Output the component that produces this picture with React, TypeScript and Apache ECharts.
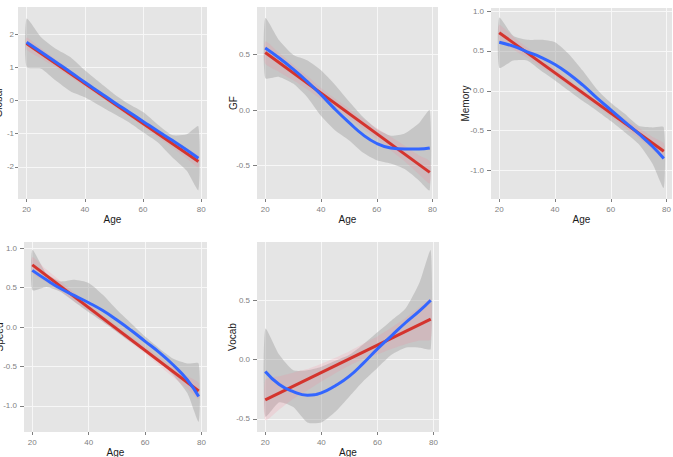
import React, { useEffect, useRef } from "react";
import * as echarts from "echarts";

// ---- data ----
const AGES = [20, 25, 30, 35, 40, 45, 50, 55, 60, 65, 70, 75, 79];
const LM_AGES = [20, 79];
const X_TICKS = [20, 40, 60, 80];

const globalLoess = [1.76, 1.46, 1.16, 0.86, 0.55, 0.25, -0.05, -0.34, -0.63, -0.92, -1.2, -1.49, -1.74];
const globalLoessLo = [1.01, 0.96, 0.6, 0.28, 0.1, -0.15, -0.4, -0.65, -0.96, -1.26, -1.71, -2.12, -2.7];
const globalLoessHi = [2.47, 1.91, 1.56, 1.31, 0.91, 0.55, 0.2, -0.1, -0.35, -0.72, -1.04, -1.02, -0.78];
const globalLm = [1.72, -1.84];
const globalLmLo = [1.54, 1.27, 1.0, 0.71, 0.42, 0.13, -0.17, -0.47, -0.78, -1.1, -1.42, -1.75, -2.02];
const globalLmHi = [1.9, 1.57, 1.24, 0.91, 0.6, 0.29, -0.01, -0.31, -0.6, -0.9, -1.18, -1.45, -1.66];
const globalTicks = [-2, -1, 0, 1, 2];

const gfLoess = [0.56, 0.47, 0.37, 0.26, 0.14, 0.01, -0.11, -0.22, -0.3, -0.34, -0.35, -0.35, -0.34];
const gfLoessLo = [0.29, 0.3, 0.24, 0.12, -0.05, -0.18, -0.27, -0.38, -0.45, -0.48, -0.53, -0.63, -0.72];
const gfLoessHi = [0.83, 0.63, 0.5, 0.45, 0.36, 0.23, 0.08, -0.06, -0.17, -0.23, -0.21, -0.12, 0.0];
const gfLm = [0.52, -0.56];
const gfLmLo = [0.42, 0.345, 0.27, 0.19, 0.1, 0.015, -0.075, -0.165, -0.26, -0.36, -0.46, -0.575, -0.66];
const gfLmHi = [0.62, 0.515, 0.41, 0.31, 0.2, 0.105, 0.015, -0.075, -0.16, -0.24, -0.32, -0.405, -0.46];
const gfTicks = [-0.5, 0, 0.5];

const memoryLoess = [0.61, 0.56, 0.49, 0.42, 0.33, 0.21, 0.07, -0.09, -0.24, -0.39, -0.54, -0.7, -0.85];
const memoryLoessLo = [0.29, 0.38, 0.38, 0.25, 0.13, 0.0, -0.13, -0.25, -0.38, -0.52, -0.67, -0.92, -1.22];
const memoryLoessHi = [0.92, 0.69, 0.64, 0.64, 0.61, 0.46, 0.25, 0.02, -0.15, -0.29, -0.44, -0.46, -0.46];
const memoryLm = [0.73, -0.76];
const memoryLmLo = [0.63, 0.52, 0.415, 0.295, 0.185, 0.06, -0.07, -0.2, -0.325, -0.465, -0.595, -0.74, -0.86];
const memoryLmHi = [0.83, 0.68, 0.545, 0.405, 0.275, 0.14, 0.01, -0.12, -0.235, -0.355, -0.465, -0.58, -0.66];
const memoryTicks = [-1, -0.5, 0, 0.5, 1];

const speedLoess = [0.72, 0.6, 0.49, 0.4, 0.31, 0.21, 0.09, -0.04, -0.18, -0.32, -0.48, -0.67, -0.88];
const speedLoessLo = [0.47, 0.51, 0.45, 0.32, 0.19, 0.07, -0.06, -0.19, -0.31, -0.44, -0.61, -0.84, -1.2];
const speedLoessHi = [0.98, 0.68, 0.58, 0.6, 0.56, 0.41, 0.22, 0.05, -0.12, -0.27, -0.4, -0.46, -0.46];
const speedLm = [0.79, -0.81];
const speedLmLo = [0.69, 0.57, 0.455, 0.325, 0.205, 0.07, -0.06, -0.2, -0.335, -0.485, -0.635, -0.78, -0.91];
const speedLmHi = [0.89, 0.73, 0.585, 0.435, 0.295, 0.15, 0.02, -0.12, -0.245, -0.375, -0.505, -0.62, -0.71];
const speedTicks = [-1, -0.5, 0, 0.5, 1];

const vocabLoess = [-0.1, -0.21, -0.27, -0.3, -0.28, -0.22, -0.14, -0.03, 0.09, 0.2, 0.31, 0.41, 0.5];
const vocabLoessLo = [-0.48, -0.36, -0.4, -0.53, -0.53, -0.44, -0.31, -0.18, -0.07, 0.04, 0.1, 0.1, 0.09];
const vocabLoessHi = [0.26, 0.04, -0.09, -0.09, -0.06, -0.01, 0.04, 0.13, 0.23, 0.33, 0.43, 0.65, 0.92];
const vocabLm = [-0.34, 0.34];
const vocabLmLo = [-0.51, -0.42, -0.33, -0.26, -0.185, -0.115, -0.05, 0.005, 0.045, 0.09, 0.13, 0.16, 0.17];
const vocabLmHi = [-0.17, -0.14, -0.11, -0.08, -0.035, 0.015, 0.07, 0.135, 0.195, 0.27, 0.35, 0.44, 0.51];
const vocabTicks = [-0.5, 0, 0.5, 1];

const PANELS = [
  { name: "Global", loess: globalLoess, lo: globalLoessLo, hi: globalLoessHi, lm: globalLm, lmLo: globalLmLo, lmHi: globalLmHi, ticks: globalTicks, yMin: -2.97, yMax: 2.82, dec: 0 },
  { name: "GF", loess: gfLoess, lo: gfLoessLo, hi: gfLoessHi, lm: gfLm, lmLo: gfLmLo, lmHi: gfLmHi, ticks: gfTicks, yMin: -0.8, yMax: 0.93, dec: 1 },
  { name: "Memory", loess: memoryLoess, lo: memoryLoessLo, hi: memoryLoessHi, lm: memoryLm, lmLo: memoryLmLo, lmHi: memoryLmHi, ticks: memoryTicks, yMin: -1.36, yMax: 1.04, dec: 1 },
  { name: "Speed", loess: speedLoess, lo: speedLoessLo, hi: speedLoessHi, lm: speedLm, lmLo: speedLmLo, lmHi: speedLmHi, ticks: speedTicks, yMin: -1.33, yMax: 1.08, dec: 1 },
  { name: "Vocab", loess: vocabLoess, lo: vocabLoessLo, hi: vocabLoessHi, lm: vocabLm, lmLo: vocabLmLo, lmHi: vocabLmHi, ticks: vocabTicks, yMin: -0.61, yMax: 0.99, dec: 1 },
];

// ---- layout ----
const LAYOUT = [
  { left: 18, top: 7, width: 189, height: 192, nameGap: 15, labelMargin: 4, tickLen: 3 },
  { left: 257, top: 7, width: 181, height: 192, nameGap: 19, labelMargin: 7, tickLen: 4 },
  { left: 491, top: 8, width: 181, height: 191, nameGap: 21, labelMargin: 7, tickLen: 4 },
  { left: 24, top: 242, width: 183, height: 190, nameGap: 20, labelMargin: 7, tickLen: 4 },
  { left: 257, top: 242, width: 182, height: 190, nameGap: 20, labelMargin: 7, tickLen: 4 },
];

const X_MIN = 17.05;
const X_MAX = 81.95;
const TICK_COLOR = "#7F7F7F";
const TITLE_COLOR = "#1A1A1A";
const GRID_LINE = "#F7F7F7";
const PANEL_BG = "#E5E5E5";
const LOESS_BAND = "rgba(153,153,153,0.4)";
const LM_BAND = "rgba(255,120,140,0.16)";
const RED = "#D4342E";
const BLUE = "#3366FF";

function bandSeries(idx: number, lo: number[], hi: number[], color: string, z: number) {
  return {
    type: "custom",
    xAxisIndex: idx,
    yAxisIndex: idx,
    silent: true,
    z,
    data: AGES.map((a, i) => [a, lo[i], hi[i]]),
    encode: { x: 0, y: [1, 2] },
    renderItem: (params: any, api: any) => {
      if (params.dataIndex !== 0) return null;
      const pts: number[][] = [];
      for (let i = 0; i < AGES.length; i++) pts.push(api.coord([AGES[i], hi[i]]));
      for (let i = AGES.length - 1; i >= 0; i--) pts.push(api.coord([AGES[i], lo[i]]));
      return {
        type: "polygon",
        shape: { points: pts, smooth: 0.2 },
        style: { fill: color, stroke: null },
        silent: true,
      };
    },
  };
}

export default function App() {
  const ref = useRef<HTMLDivElement>(null);
  useEffect(() => {
    if (!ref.current) return;
    const chart = echarts.init(ref.current, undefined, { renderer: "svg" });
    const grids: any[] = [];
    const xAxes: any[] = [];
    const yAxes: any[] = [];
    const series: any[] = [];
    PANELS.forEach((p, i) => {
      const L = LAYOUT[i];
      grids.push({
        left: L.left, top: L.top, width: L.width, height: L.height,
        show: true, backgroundColor: PANEL_BG, borderWidth: 0,
        containLabel: false, outerBoundsMode: "none",
      });
      xAxes.push({
        type: "value", gridIndex: i, min: X_MIN, max: X_MAX, position: "bottom",
        name: "Age", nameLocation: "middle", nameGap: 15, nameMoveOverlap: false,
        nameTextStyle: { color: TITLE_COLOR, fontSize: 10 },
        axisLine: { show: false, onZero: false },
        axisTick: { show: true, length: 3, customValues: X_TICKS, lineStyle: { color: TICK_COLOR } },
        axisLabel: { customValues: X_TICKS, color: TICK_COLOR, fontSize: 8, margin: 6 },
        splitLine: { show: true, lineStyle: { color: GRID_LINE, width: 1 } },
      });
      yAxes.push({
        type: "value", gridIndex: i, min: p.yMin, max: p.yMax, position: "left",
        name: p.name, nameLocation: "middle", nameRotate: 90, nameGap: L.nameGap,
        nameMoveOverlap: false,
        nameTextStyle: { color: TITLE_COLOR, fontSize: 10 },
        axisLine: { show: false, onZero: false },
        axisTick: { show: true, length: L.tickLen, customValues: p.ticks, lineStyle: { color: TICK_COLOR } },
        axisLabel: {
          customValues: p.ticks, color: TICK_COLOR, fontSize: 8, margin: L.labelMargin,
          formatter: (v: number) => v.toFixed(p.dec),
        },
        splitLine: { show: true, lineStyle: { color: GRID_LINE, width: 1 } },
      });
      series.push(bandSeries(i, p.lo, p.hi, LOESS_BAND, 1));
      series.push(bandSeries(i, p.lmLo, p.lmHi, LM_BAND, 2));
      series.push({
        type: "line", xAxisIndex: i, yAxisIndex: i, z: 3,
        data: LM_AGES.map((a, k) => [a, p.lm[k]]),
        showSymbol: false, silent: true,
        lineStyle: { color: RED, width: 3 },
      });
      series.push({
        type: "line", xAxisIndex: i, yAxisIndex: i, z: 4,
        data: AGES.map((a, k) => [a, p.loess[k]]),
        showSymbol: false, silent: true, smooth: 0.5,
        lineStyle: { color: BLUE, width: 3 },
      });
    });
    chart.setOption({
      animation: false,
      backgroundColor: "#FFFFFF",
      textStyle: { fontFamily: "'Liberation Sans', Arial, sans-serif" },
      grid: grids,
      xAxis: xAxes,
      yAxis: yAxes,
      series,
    });
    return () => chart.dispose();
  }, []);
  return (
    <div
      ref={ref}
      style={{ position: "fixed", left: 0, top: 0, width: 673, height: 457 }}
    />
  );
}
